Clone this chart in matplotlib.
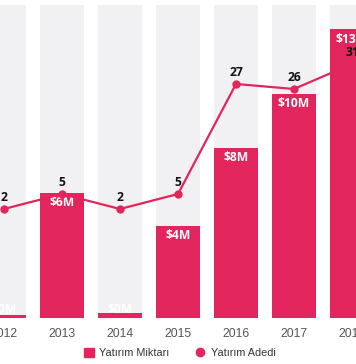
import numpy as np
import matplotlib
matplotlib.use('Agg')
import matplotlib.pyplot as plt
from matplotlib.lines import Line2D
from matplotlib.patches import Patch

years = ['2012', '2013', '2014', '2015', '2016', '2017', '2018']
amount = [0.14, 5.63, 0.23, 4.14, 7.66, 10.1, 13.0]   # Yatırım Miktarı ($M)
count = [2, 5, 2, 5, 27, 26, 31]                        # Yatırım Adedi
amount_max = 14.1

red = '#e2255c'
gray_bg = '#f1f1f4'

fig = plt.figure(figsize=(3.56, 3.64), dpi=100)
ax = fig.add_axes([0, 0.1264, 1, 0.8599])
x = np.arange(len(years))
w = 0.76

ax.bar(x, [amount_max] * len(x), width=w, color=gray_bg, zorder=1)
ax.bar(x, amount, width=w, color=red, zorder=2)
ax.set_ylim(0, amount_max)
ax.set_xlim(-4 / 58, len(x) - 1 + 4 / 58)

for xi, v in zip(x, amount):
    ax.annotate('$%dM' % round(v), (xi, max(v, 0.8)), xytext=(0, -7),
                textcoords='offset points', ha='center', va='center',
                color='white', fontsize=8.7, fontweight='bold',
                family='Open Sans', zorder=3)

ax.set_xticks(x)
ax.set_xticklabels(years, family='Liberation Sans', fontsize=8.7, color='#555555')
ax.tick_params(axis='x', length=0, pad=7)
ax.set_yticks([])
for s in ax.spines.values():
    s.set_visible(False)

ax2 = ax.twinx()
ax2.plot(x, count, color=red, linewidth=1.6, marker='o', markersize=5,
         zorder=4)
ax2.set_ylim(-19.8, 42.8)
for xi, c in zip(x, count):
    ax2.annotate(str(c), (xi, c), xytext=(0, 8), textcoords='offset points',
                 ha='center', va='center', color='#111111', fontsize=8.7,
                 fontweight='bold', family='Open Sans')
ax2.set_yticks([])
for s in ax2.spines.values():
    s.set_visible(False)

handles = [Patch(color=red),
           Line2D([], [], color=red, marker='o', linestyle='none', markersize=6)]
fig.legend(handles, ['Yatırım Miktarı', 'Yatırım Adedi'], loc='center',
           bbox_to_anchor=(0.505, 0.03), ncol=2, frameon=False,
           prop={'family': 'Liberation Sans', 'size': 7.8}, labelcolor='#333333',
           handlelength=0.9, handleheight=0.9, handletextpad=0.5,
           columnspacing=2.4)

fig.savefig('out.png', dpi=100)
